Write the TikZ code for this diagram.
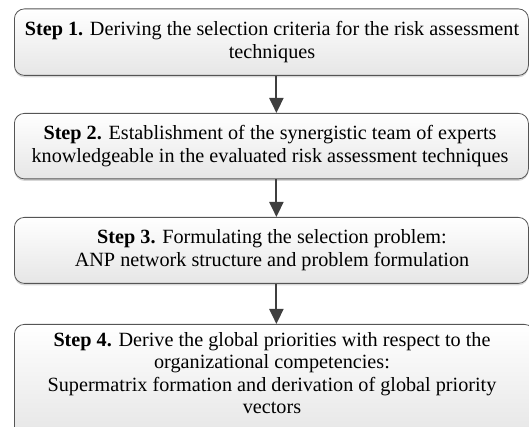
\documentclass[tikz,border=0pt]{standalone}
\usepackage{fontspec}
\setmainfont{Liberation Serif}
\usetikzlibrary{arrows.meta,shadows}
\definecolor{bordergray}{HTML}{555555}
\definecolor{arrowgray}{HTML}{3F3F3F}
\definecolor{shadebot}{HTML}{E6E6E6}
\begin{document}
\begin{tikzpicture}[x=1pt,y=1pt,
  stepbox/.style={draw=bordergray, line width=0.8pt, rounded corners=10pt,
    top color=white, bottom color=shadebot,
    drop shadow={shadow xshift=0pt, shadow yshift=-2pt, fill=gray!45, opacity=0.7},
    minimum width=514pt, inner sep=0pt, anchor=north west},
  steptext/.style={align=center, inner sep=0pt,
    font=\fontsize{20.2}{22.5}\selectfont},
  flow/.style={draw=arrowgray, line width=2pt,
    -{Triangle[length=15pt,width=14pt]}}
]
\useasboundingbox (0,0) rectangle (529,427);
\clip (0,0) rectangle (529,427);
\node[stepbox, minimum height=66.5pt] (s1) at (14,418.5) {};
\node[stepbox, minimum height=65.5pt] (s2) at (14,314) {};
\node[stepbox, minimum height=66pt] (s3) at (14,210) {};
\node[stepbox, minimum height=112pt, minimum width=520pt] (s4) at (14,103) {};

\node[steptext] (t1) at (272,385) {\textbf{Step 1.} Deriving the selection criteria for the risk assessment\\techniques};
\node[steptext] (t2) at (270,281) {\textbf{Step 2.} Establishment of the synergistic team of experts\\knowledgeable in the evaluated risk assessment techniques};
\node[steptext] (t3) at (272,177) {\textbf{Step 3.} Formulating the selection problem:\\ANP network structure and problem formulation};
\node[steptext] (t4) at (272,54) {\textbf{Step 4.} Derive the global priorities with respect to the\\organizational competencies:\\Supermatrix formation and derivation of global priority\\vectors};

\draw[flow] ([xshift=5pt]s1.south) -- ([xshift=5pt]s2.north);
\draw[flow] ([xshift=5pt]s2.south) -- ([xshift=5pt]s3.north);
\draw[flow] ([xshift=5pt]s3.south) -- ([xshift=2pt]s4.north);
\end{tikzpicture}
\end{document}
